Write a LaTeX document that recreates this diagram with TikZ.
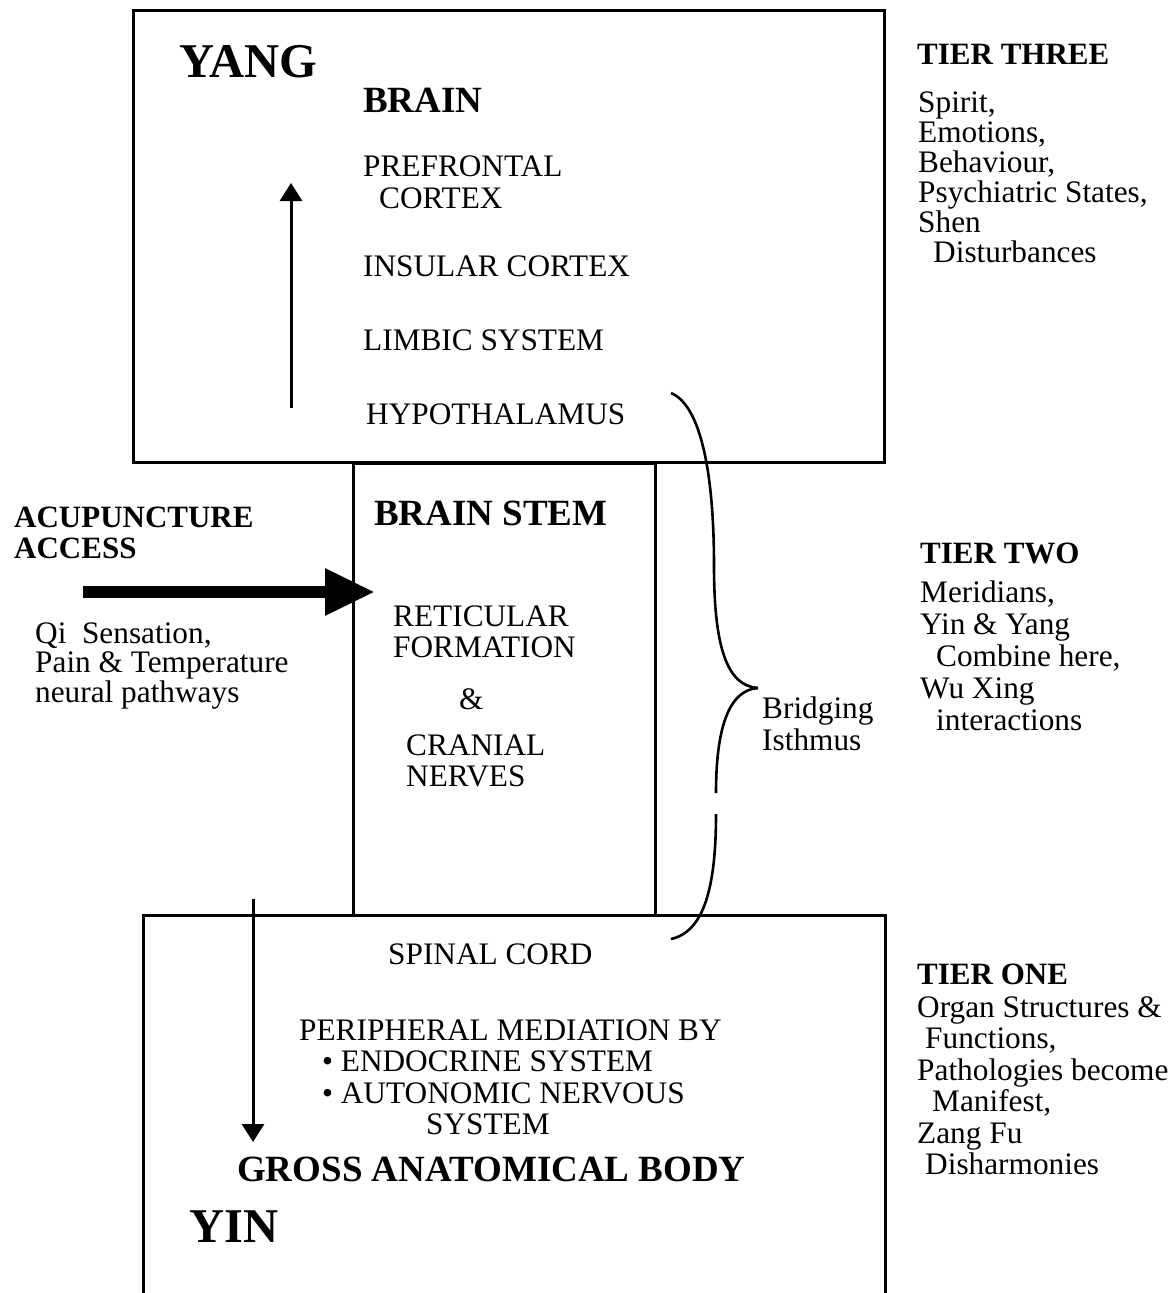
\documentclass[tikz,border=0pt]{standalone}
\usepackage{fontspec}
\setmainfont{Liberation Serif}
\usetikzlibrary{arrows.meta}
\newcommand\rtxt{\fontsize{31.3}{31}\selectfont}
\newcommand\btxt{\bfseries\fontsize{31}{31}\selectfont}
\newcommand\htxt{\bfseries\fontsize{37}{37}\selectfont}
\newcommand\ytxt{\bfseries\fontsize{48.5}{48}\selectfont}
\begin{document}
\begin{tikzpicture}[x=1pt,y=-1pt,
  tx/.style={anchor=base west,inner sep=0pt,font=\rtxt},
  tb/.style={anchor=base west,inner sep=0pt,font=\btxt},
  hd/.style={anchor=base west,inner sep=0pt,font=\htxt},
  yy/.style={anchor=base west,inner sep=0pt,font=\ytxt},
  boxline/.style={line width=3pt,line join=miter},
  thinarrow/.style={line width=3pt,-{Triangle[width=22pt,length=18pt]}},
  fatarrow/.style={line width=12pt,-{Triangle[width=44pt,length=50pt]}},
  bracepath/.style={line width=2.6pt}]
\useasboundingbox (0,0) rectangle (1173,1293);
% boxes
\draw[boxline] (133,10) rectangle (884,462);
\draw[boxline] (353,463) rectangle (655,915);
\draw[boxline] (143,1300) -- (143,915) -- (885,915) -- (885,1300);
% top box text
\node[yy] (yang) at (179,77) {YANG};
\node[hd] (brain) at (363,112) {BRAIN};
\node[tx] (pref1) at (363,176) {PREFRONTAL};
\node[tx] (pref2) at (379,208) {CORTEX};
\node[tx] (insular) at (363,276) {INSULAR CORTEX};
\node[tx] (limbic) at (363,350) {LIMBIC SYSTEM};
\node[tx] (hypo) at (366,424) {HYPOTHALAMUS};
% up arrow
\coordinate (upS) at (291,408);
\coordinate (upE) at (291,183);
\draw[thinarrow] (upS) -- (upE);
% middle box text
\node[hd] (stem) at (374,525) {BRAIN STEM};
\node[tx] (ret1) at (393,626) {RETICULAR};
\node[tx] (ret2) at (393,657) {FORMATION};
\node[tx] (amp) at (459,709) {\&};
\node[tx] (cran1) at (406,755) {CRANIAL};
\node[tx] (cran2) at (406,786) {NERVES};
% left text
\node[tb] (acu1) at (14,527) {ACUPUNCTURE};
\node[tb] (acu2) at (14,558) {ACCESS};
\node[tx] (qi1) at (35,643) {Qi\hspace{7.75pt} Sensation,};
\node[tx] (qi2) at (35,672) {Pain \& Temperature};
\node[tx] (qi3) at (35,702) {neural pathways};
\coordinate (acuS) at (83,592);
\coordinate (acuE) at (375,592);
\draw[fatarrow] (acuS) -- (acuE);
% brace
\coordinate (brT) at (671,393);
\coordinate (brM) at (714,566);
\coordinate (brTip) at (758,688);
\coordinate (brG1) at (716,793);
\coordinate (brG2) at (716,814);
\coordinate (brB) at (671,939);
\draw[bracepath] (brT) .. controls (700,405) and (714,470) .. (brM)
   .. controls (714,650) and (728,686) .. (brTip);
\draw[bracepath] (brTip) .. controls (728,690) and (716,730) .. (brG1);
\draw[bracepath] (brG2) .. controls (716,890) and (703,932) .. (brB);
\node[tx] (bridge1) at (762,718) {Bridging};
\node[tx] (bridge2) at (762,750) {Isthmus};
% right column: tier three
\node[tb] (t3) at (917,64) {TIER THREE};
\node[tx] (t3a) at (918,112) {Spirit,};
\node[tx] (t3b) at (918,142) {Emotions,};
\node[tx] (t3c) at (918,172) {Behaviour,};
\node[tx] (t3d) at (918,202) {Psychiatric States,};
\node[tx] (t3e) at (918,232) {Shen};
\node[tx] (t3f) at (933,262) {Disturbances};
% tier two
\node[tb] (t2) at (920,563) {TIER TWO};
\node[tx] (t2a) at (920,602) {Meridians,};
\node[tx] (t2b) at (920,634) {Yin \& Yang};
\node[tx] (t2c) at (936,666) {Combine here,};
\node[tx] (t2d) at (920,698) {Wu Xing};
\node[tx] (t2e) at (936,730) {interactions};
% tier one
\node[tb] (t1) at (917,984) {TIER ONE};
\node[tx] (t1a) at (917,1017) {Organ Structures \&};
\node[tx] (t1b) at (925,1048.5) {Functions,};
\node[tx] (t1c) at (917,1080) {Pathologies become};
\node[tx] (t1d) at (932,1111.5) {Manifest,};
\node[tx] (t1e) at (917,1143) {Zang Fu};
\node[tx] (t1f) at (925,1174.5) {Disharmonies};
% bottom box text
\node[tx] (spinal) at (388,964) {SPINAL CORD};
\node[tx] (peri) at (299,1040) {PERIPHERAL MEDIATION BY};
\node[tx] (endo) at (322,1071) {•\hspace{7.75pt}ENDOCRINE SYSTEM};
\node[tx] (auto) at (322,1103) {•\hspace{7.75pt}AUTONOMIC NERVOUS};
\node[tx] (sys) at (426,1134) {SYSTEM};
\node[hd] (gross) at (237,1181) {GROSS ANATOMICAL BODY};
\node[yy] (yin) at (189,1242) {YIN};
% down arrow
\coordinate (dnS) at (253,899);
\coordinate (dnE) at (253,1142);
\draw[thinarrow] (dnS) -- (dnE);
\end{tikzpicture}
\end{document}
